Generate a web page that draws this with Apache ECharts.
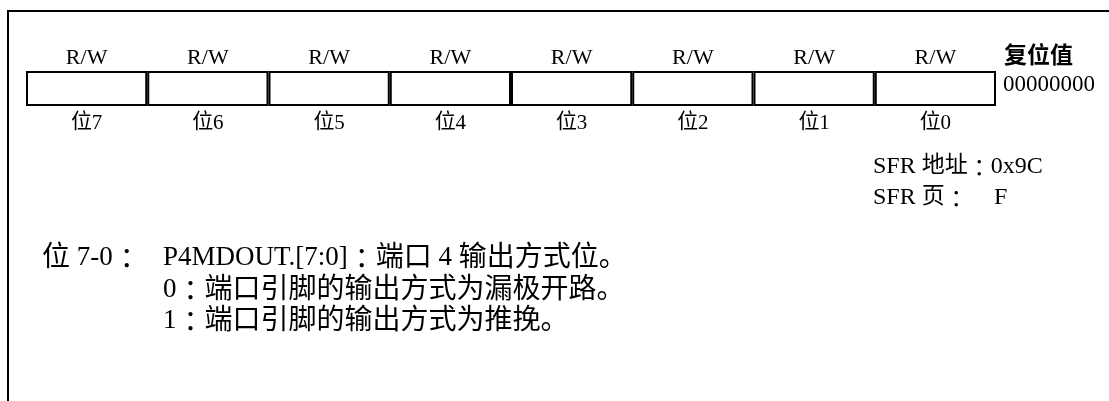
<!DOCTYPE html>
<html>
<head>
<meta charset="utf-8">
<script src="https://cdn.jsdelivr.net/npm/echarts@6/dist/echarts.min.js"></script>
<style>
html,body{margin:0;padding:0;background:#fff;}
#chart{width:1109px;height:401px;}
</style>
</head>
<body>
<div id="chart"></div>
<script>
// ---- data ----
const bitLabels = ['位7','位6','位5','位4','位3','位2','位1','位0'];
const accessLabels = ['R/W','R/W','R/W','R/W','R/W','R/W','R/W','R/W'];
const cellValues = [1,1,1,1,1,1,1,1];
const resetTitle = '复位值';
const resetValue = '00000000';
const sfrAddrLabel = 'SFR 地址：0x9C';
const sfrPageLabel = 'SFR 页：';
const sfrPageValue = 'F';
const bitRangeLabel = '位 7-0：';
const descLines = [
  'P4MDOUT.[7:0]：端口 4 输出方式位。',
  '0：端口引脚的输出方式为漏极开路。',
  '1：端口引脚的输出方式为推挽。'
];

const SERIF = "'Liberation Serif','Times New Roman',serif";
const CJK = "'Noto Sans CJK SC',sans-serif";
const CJKC = "'Noto Sans CJK JP',sans-serif";

// split a string into rich-text runs: latin serif / cjk sans / centered colon
function richify(s) {
  let out = '', cur = null, buf = '';
  const flush = () => { if (buf) { out += '{' + cur + '|' + buf + '}'; buf = ''; } };
  for (const ch of s) {
    let k;
    if (ch === '：') k = 'k';
    else if (/[\u3000-\u9fff\uff00-\uffef]/.test(ch)) k = 'c';
    else k = 'l';
    if (k !== cur) { flush(); cur = k; }
    buf += ch;
  }
  flush();
  return out;
}
function richStyles(size, cjkSize, cjkWeight) {
  cjkSize = cjkSize || size;
  const lh = Math.max(size, cjkSize) + 6;
  const shift = Math.max(1, Math.round(cjkSize * 0.05));
  return {
    l: {fontFamily: SERIF, fontSize: size, color:'#000', lineHeight: lh},
    c: {fontFamily: CJK, fontSize: cjkSize, color:'#000', lineHeight: lh - 2 * shift,
        verticalAlign: 'top', fontWeight: cjkWeight || 'normal'},
    k: {fontFamily: CJKC, fontSize: cjkSize, color:'#000', lineHeight: lh}
  };
}

const chart = echarts.init(document.getElementById('chart'), null, {renderer:'canvas'});

function txt(text, x, y, size, cjkSize, cjkWeight) {
  return {
    type: 'text',
    style: {
      text: richify(text), x: x, y: y,
      rich: richStyles(size, cjkSize, cjkWeight),
      fill: '#000',
      align: 'left',
      verticalAlign: 'middle'
    }
  };
}

const graphics = [
  {type:'line', shape:{x1:7, y1:11, x2:1109, y2:11}, style:{stroke:'#000', lineWidth:2}},
  {type:'line', shape:{x1:8, y1:10, x2:8, y2:401}, style:{stroke:'#000', lineWidth:2}},
  txt(resetTitle, 1004, 56, 23, 23, 'bold'),
  txt(resetValue, 1003, 85, 23),
  txt(sfrAddrLabel, 873, 167, 24, 23),
  txt(sfrPageLabel, 873, 198, 24, 23),
  txt(sfrPageValue, 994, 198, 24),
  txt(bitRangeLabel, 42, 258, 27, 28),
  txt(descLines[0], 163, 258, 27, 28),
  txt(descLines[1], 163, 290, 27, 28),
  txt(descLines[2], 163, 321, 27, 28)
];

chart.setOption({
  backgroundColor: '#fff',
  animation: false,
  grid: {left: 26, right: 113, top: 71, height: 35, containLabel: false},
  xAxis: [
    {
      type: 'category', data: bitLabels, position: 'bottom',
      axisLine: {show:false}, axisTick: {show:false}, splitLine: {show:false},
      axisLabel: {margin: 17, verticalAlign: 'middle',
        formatter: v => richify(v), rich: richStyles(21)}
    },
    {
      type: 'category', data: accessLabels, position: 'top',
      axisLine: {show:false}, axisTick: {show:false}, splitLine: {show:false},
      axisLabel: {margin: 13, verticalAlign: 'middle',
        formatter: v => richify(v), rich: richStyles(22)}
    }
  ],
  yAxis: {type:'value', min:0, max:1, show:false},
  series: [{
    type: 'bar', data: cellValues, xAxisIndex: 0,
    barWidth: '100%', barCategoryGap: 0,
    itemStyle: {color:'#fff', borderColor:'#000', borderWidth:2},
    emphasis: {disabled:true}, silent: true
  }],
  graphic: graphics
});
</script>
</body>
</html>
